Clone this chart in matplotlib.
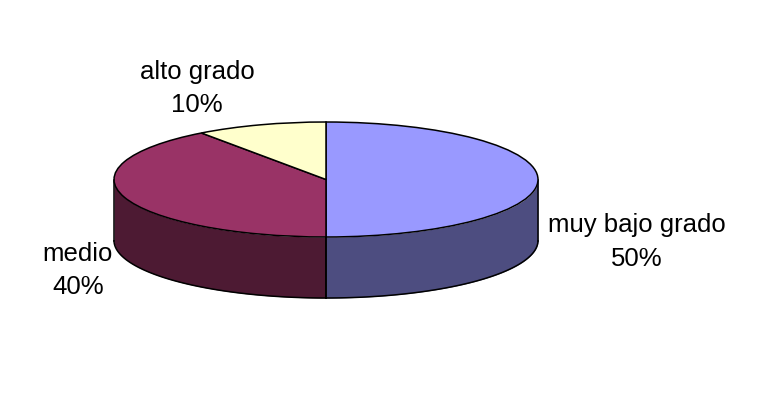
import numpy as np
import matplotlib
matplotlib.use('Agg')
import matplotlib.pyplot as plt

labels = ['muy bajo grado', 'medio', 'alto grado']
values = [50, 40, 10]
top_colors = ['#9999ff', '#993366', '#ffffcc']
side_colors = ['#4d4d80', '#4d1a33', '#808066']

plt.rcParams['font.family'] = ['Liberation Sans', 'DejaVu Sans']

W, H = 760, 417
cx, cy = 326, 179.5      # pie centre in pixels from top left
rx, ry = 212, 57.5
depth = 61 / ry          # wall height, in units of the y radius

fig = plt.figure(figsize=(W / 100, H / 100), dpi=100, facecolor='white')
ax = fig.add_axes([0, 0, 1, 1])

# side walls first, only the front half of the rim shows
start = 90.0
for val, col in zip(values, side_colors):
    end = start - val * 3.6
    a = np.radians(np.linspace(start, end, 200))
    a = a[np.sin(a) <= 0]
    if len(a) > 1:
        x = np.cos(a)
        y = np.sin(a)
        ax.fill_between(x, y, y - depth, color=col, lw=0, zorder=1)
        ax.plot(x, y - depth, color='black', lw=1.1, zorder=2)
        for xe, ye in [(x[0], y[0]), (x[-1], y[-1])]:
            ax.plot([xe, xe], [ye, ye - depth], color='black', lw=1.1, zorder=2)
    start = end

wedges, _ = ax.pie(values, colors=top_colors, startangle=90, counterclock=False,
                   radius=1, center=(0, 0), frame=False,
                   wedgeprops={'edgecolor': 'black', 'linewidth': 1.1, 'zorder': 3})

ax.set_aspect('auto')
ax.set_xlim(-cx / rx, (W - cx) / rx)
ax.set_ylim((cy - H) / ry, cy / ry)
ax.axis('off')


def label(px, py, s):
    ax.text((px - cx) / rx, (cy - py) / ry, s, ha='center', va='center',
            fontsize=18.5, color='black', linespacing=1.48, zorder=5)


label(637, 242, labels[0] + '\n%d%%' % values[0])
label(78, 270.5, labels[1] + '\n%d%%' % values[1])
label(197, 88.5, labels[2] + '\n%d%%' % values[2])

fig.savefig('out.png', dpi=100, facecolor='white')
